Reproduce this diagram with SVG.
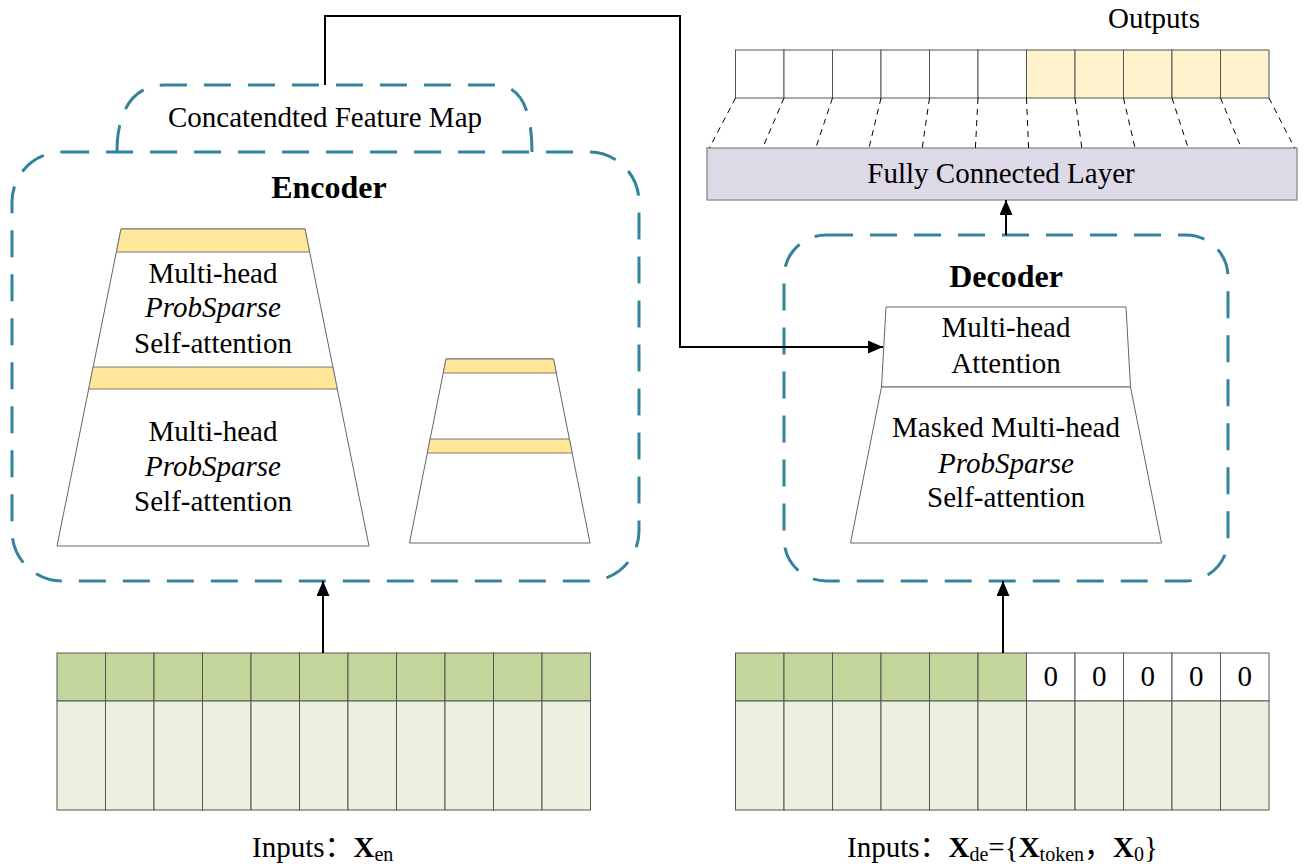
<svg xmlns="http://www.w3.org/2000/svg" width="1306" height="867" viewBox="0 0 1306 867">
<style>
text{font-family:"Liberation Serif","Times New Roman","Noto Sans CJK SC",serif;fill:#000}
.t{font-size:29px;text-anchor:middle}
.it{font-style:italic}
.h{font-size:32px;font-weight:bold;text-anchor:middle}
.box{fill:none;stroke:#31849B;stroke-width:3;stroke-dasharray:27 17}
.trap{fill:#fff;stroke:#666;stroke-width:1}
.band{fill:#FFE699;stroke:#777;stroke-width:1}
.cell{stroke:#555;stroke-width:1}
.dk{fill:#C3D69B}
.lt{fill:#EBF1DE}
.wh{fill:#fff}
.py{fill:#FFF2CC}
.conn{fill:none;stroke:#000;stroke-width:2}
.fcd{stroke:#000;stroke-width:1;stroke-dasharray:6 5}
.sub{font-size:20px}
.b{font-weight:bold}
</style>
<defs>
<marker id="arr" markerUnits="userSpaceOnUse" markerWidth="16" markerHeight="15" refX="15" refY="6.5" orient="auto">
<path d="M0,0 L15,6.5 L0,13 z" fill="#000"/>
</marker>
</defs>

<g id="encoder">
<path class="box" d="M117,152 C117,112 132,85 165,85 L495,85 C522,85 532,112 532,152"/>
<rect class="box" x="12" y="152" width="627" height="429" rx="50" ry="50"/>
<text class="t" x="325" y="127">Concatendted Feature Map</text>
<text class="h" x="329" y="198">Encoder</text>
</g>

<g id="encoder-stack-1">
<polygon class="trap" points="121,229 305,229 369,546 57,546"/>
<polygon class="band" points="121,229 305,229 309.6,252 116.4,252"/>
<polygon class="band" points="93.1,367 332.9,367 337.3,389 88.7,389"/>
<text class="t" x="213" y="283">Multi-head</text>
<text class="t it" x="213" y="317">ProbSparse</text>
<text class="t" x="213" y="353">Self-attention</text>
<text class="t" x="213" y="441">Multi-head</text>
<text class="t it" x="213" y="476">ProbSparse</text>
<text class="t" x="213" y="511">Self-attention</text>
</g>

<g id="encoder-stack-2">
<polygon class="trap" points="446,359 553.5,359 590,543 409.5,543"/>
<polygon class="band" points="446,359 553.5,359 556.3,373 443.2,373"/>
<polygon class="band" points="430.1,439 569.4,439 572.2,453 427.3,453"/>
</g>

<g id="decoder">
<rect class="box" x="784" y="235" width="444" height="346" rx="42" ry="42"/>
<text class="h" x="1006" y="287">Decoder</text>
</g>

<g id="decoder-attention">
<polygon class="trap" points="886,307 1126,307 1130.5,387 881.5,387"/>
<text class="t" x="1006" y="337">Multi-head</text>
<text class="t" x="1006" y="373">Attention</text>
</g>

<g id="decoder-masked">
<polygon class="trap" points="881.5,387 1130.5,387 1161.5,543 850.5,543"/>
<text class="t" x="1006" y="437">Masked Multi-head</text>
<text class="t it" x="1006" y="473">ProbSparse</text>
<text class="t" x="1006" y="507">Self-attention</text>
</g>

<g id="fc-layer">
<rect x="707" y="148" width="590" height="52" fill="#DDD9E6" stroke="#808080" stroke-width="1.2"/>
<text class="t" x="1001" y="183">Fully Connected Layer</text>
</g>

<g id="outputs">
<text class="t" x="1154" y="28">Outputs</text>
<rect class="cell wh" x="735.5" y="50" width="48.5" height="48"/>
<rect class="cell wh" x="784" y="50" width="48.5" height="48"/>
<rect class="cell wh" x="832.5" y="50" width="48.5" height="48"/>
<rect class="cell wh" x="881" y="50" width="48.5" height="48"/>
<rect class="cell wh" x="929.5" y="50" width="48.5" height="48"/>
<rect class="cell wh" x="978" y="50" width="48.5" height="48"/>
<rect class="cell py" x="1026.5" y="50" width="48.5" height="48"/>
<rect class="cell py" x="1075" y="50" width="48.5" height="48"/>
<rect class="cell py" x="1123.5" y="50" width="48.5" height="48"/>
<rect class="cell py" x="1172" y="50" width="48.5" height="48"/>
<rect class="cell py" x="1220.5" y="50" width="48.5" height="48"/>
</g>

<g id="encoder-input">
<rect class="cell dk" x="57" y="653" width="48.5" height="48"/>
<rect class="cell dk" x="105.5" y="653" width="48.5" height="48"/>
<rect class="cell dk" x="154" y="653" width="48.5" height="48"/>
<rect class="cell dk" x="202.5" y="653" width="48.5" height="48"/>
<rect class="cell dk" x="251" y="653" width="48.5" height="48"/>
<rect class="cell dk" x="299.5" y="653" width="48.5" height="48"/>
<rect class="cell dk" x="348" y="653" width="48.5" height="48"/>
<rect class="cell dk" x="396.5" y="653" width="48.5" height="48"/>
<rect class="cell dk" x="445" y="653" width="48.5" height="48"/>
<rect class="cell dk" x="493.5" y="653" width="48.5" height="48"/>
<rect class="cell dk" x="542" y="653" width="48.5" height="48"/>
<rect class="cell lt" x="57" y="701" width="48.5" height="109"/>
<rect class="cell lt" x="105.5" y="701" width="48.5" height="109"/>
<rect class="cell lt" x="154" y="701" width="48.5" height="109"/>
<rect class="cell lt" x="202.5" y="701" width="48.5" height="109"/>
<rect class="cell lt" x="251" y="701" width="48.5" height="109"/>
<rect class="cell lt" x="299.5" y="701" width="48.5" height="109"/>
<rect class="cell lt" x="348" y="701" width="48.5" height="109"/>
<rect class="cell lt" x="396.5" y="701" width="48.5" height="109"/>
<rect class="cell lt" x="445" y="701" width="48.5" height="109"/>
<rect class="cell lt" x="493.5" y="701" width="48.5" height="109"/>
<rect class="cell lt" x="542" y="701" width="48.5" height="109"/>
<text x="252" y="857" font-size="29px">Inputs：<tspan class="b">X</tspan><tspan class="sub" dy="4">en</tspan></text>
</g>

<g id="decoder-input">
<rect class="cell dk" x="735.5" y="653" width="48.5" height="48"/>
<rect class="cell dk" x="784" y="653" width="48.5" height="48"/>
<rect class="cell dk" x="832.5" y="653" width="48.5" height="48"/>
<rect class="cell dk" x="881" y="653" width="48.5" height="48"/>
<rect class="cell dk" x="929.5" y="653" width="48.5" height="48"/>
<rect class="cell dk" x="978" y="653" width="48.5" height="48"/>
<rect class="cell wh" x="1026.5" y="653" width="48.5" height="48"/>
<rect class="cell wh" x="1075" y="653" width="48.5" height="48"/>
<rect class="cell wh" x="1123.5" y="653" width="48.5" height="48"/>
<rect class="cell wh" x="1172" y="653" width="48.5" height="48"/>
<rect class="cell wh" x="1220.5" y="653" width="48.5" height="48"/>
<text class="t" x="1050.75" y="686" font-size="27px">0</text>
<text class="t" x="1099.25" y="686" font-size="27px">0</text>
<text class="t" x="1147.75" y="686" font-size="27px">0</text>
<text class="t" x="1196.25" y="686" font-size="27px">0</text>
<text class="t" x="1244.75" y="686" font-size="27px">0</text>
<rect class="cell lt" x="735.5" y="701" width="48.5" height="109"/>
<rect class="cell lt" x="784" y="701" width="48.5" height="109"/>
<rect class="cell lt" x="832.5" y="701" width="48.5" height="109"/>
<rect class="cell lt" x="881" y="701" width="48.5" height="109"/>
<rect class="cell lt" x="929.5" y="701" width="48.5" height="109"/>
<rect class="cell lt" x="978" y="701" width="48.5" height="109"/>
<rect class="cell lt" x="1026.5" y="701" width="48.5" height="109"/>
<rect class="cell lt" x="1075" y="701" width="48.5" height="109"/>
<rect class="cell lt" x="1123.5" y="701" width="48.5" height="109"/>
<rect class="cell lt" x="1172" y="701" width="48.5" height="109"/>
<rect class="cell lt" x="1220.5" y="701" width="48.5" height="109"/>
<text x="847" y="857" font-size="29px">Inputs：<tspan class="b">X</tspan><tspan class="sub" dy="4">de</tspan><tspan dy="-4">={</tspan><tspan class="b">X</tspan><tspan class="sub" dy="4">token</tspan><tspan dy="-4">，</tspan><tspan class="b">X</tspan><tspan class="sub" dy="4">0</tspan><tspan dy="-4">}</tspan></text>
</g>

<g id="connectors">
<polyline class="conn" points="325,85 325,16 680,16 680,347 883,347" marker-end="url(#arr)"/>
<line class="conn" x1="323" y1="653" x2="323" y2="581" marker-end="url(#arr)"/>
<line class="conn" x1="1003" y1="653" x2="1003" y2="581" marker-end="url(#arr)"/>
<line class="conn" x1="1006" y1="235" x2="1006" y2="200" marker-end="url(#arr)"/>
<line class="fcd" x1="735.5" y1="98" x2="709.4" y2="148"/>
<line class="fcd" x1="784" y1="98" x2="762.6" y2="148"/>
<line class="fcd" x1="832.5" y1="98" x2="815.8" y2="148"/>
<line class="fcd" x1="881" y1="98" x2="869" y2="148"/>
<line class="fcd" x1="929.5" y1="98" x2="922.2" y2="148"/>
<line class="fcd" x1="978" y1="98" x2="975.4" y2="148"/>
<line class="fcd" x1="1026.5" y1="98" x2="1028.6" y2="148"/>
<line class="fcd" x1="1075" y1="98" x2="1081.8" y2="148"/>
<line class="fcd" x1="1123.5" y1="98" x2="1135" y2="148"/>
<line class="fcd" x1="1172" y1="98" x2="1188.2" y2="148"/>
<line class="fcd" x1="1220.5" y1="98" x2="1241.4" y2="148"/>
<line class="fcd" x1="1269" y1="98" x2="1294.6" y2="148"/>
</g>
</svg>
